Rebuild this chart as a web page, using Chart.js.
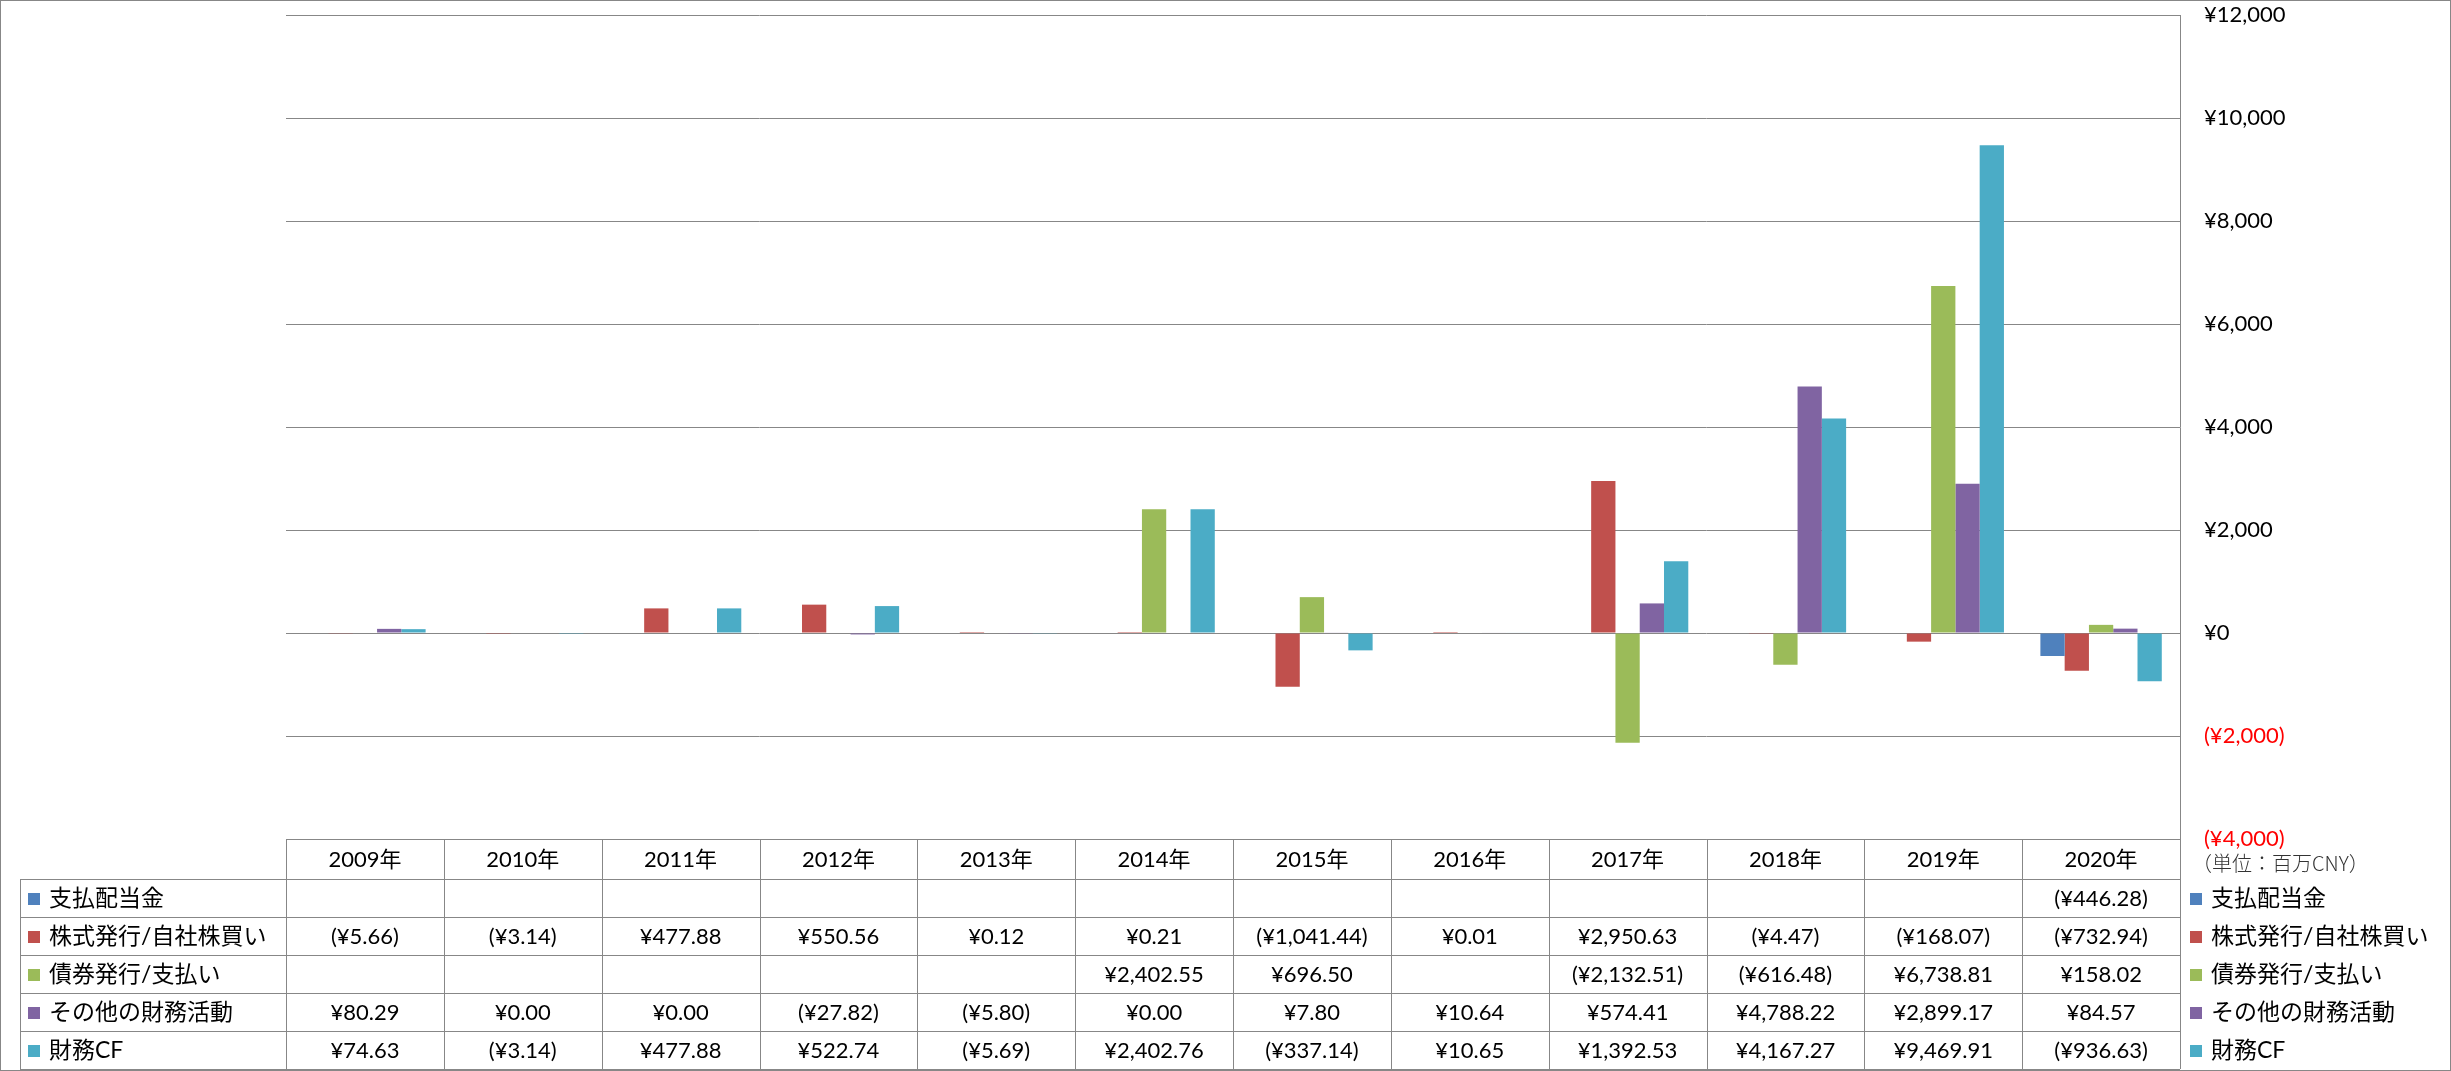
<!DOCTYPE html>
<html lang="ja">
<head>
<meta charset="UTF-8">
<title>財務CF 推移</title>
<script src="https://cdn.jsdelivr.net/npm/chart.js"></script>
<style>
    body { margin: 0; background: #fff; }
    canvas { display: block; }
</style>
</head>
<body>
<canvas id="cfChart" width="2451" height="1071"></canvas>
<script>
    // 年度
    const years = ['2009年', '2010年', '2011年', '2012年', '2013年', '2014年', '2015年', '2016年', '2017年', '2018年', '2019年', '2020年'];

    // 系列 (百万CNY)
    const dividends   = [null, null, null, null, null, null, null, null, null, null, null, -446.28];
    const equity      = [-5.66, -3.14, 477.88, 550.56, 0.12, 0.21, -1041.44, 0.01, 2950.63, -4.47, -168.07, -732.94];
    const bonds       = [null, null, null, null, null, 2402.55, 696.50, null, -2132.51, -616.48, 6738.81, 158.02];
    const otherFin    = [80.29, 0.00, 0.00, -27.82, -5.80, 0.00, 7.80, 10.64, 574.41, 4788.22, 2899.17, 84.57];
    const financingCF = [74.63, -3.14, 477.88, 522.74, -5.69, 2402.76, -337.14, 10.65, 1392.53, 4167.27, 9469.91, -936.63];

    const seriesNames  = ['支払配当金', '株式発行/自社株買い', '債券発行/支払い', 'その他の財務活動', '財務CF'];
    const seriesColors = ['#4F81BD', '#C0504D', '#9BBB59', '#8064A2', '#4BACC6'];
    const seriesData   = [dividends, equity, bonds, otherFin, financingCF];

    const yMin = -4000, yMax = 12000, yStep = 2000;
    const unitLabel = '（単位：百万CNY）';

    const FONT = 'Lato, "Noto Sans CJK JP", sans-serif';
    const GRID = '#878787';

    function yen(v, digits) {
        const s = Math.abs(v).toLocaleString('en-US', { minimumFractionDigits: digits, maximumFractionDigits: digits });
        return v < 0 ? '(¥' + s + ')' : '¥' + s;
    }

    // data table + right legend + outer frame
    const tablePlugin = {
        id: 'dataTable',
        afterDraw(chart) {
            const ctx = chart.ctx;
            const area = chart.chartArea;
            const xs = chart.scales.x;
            const colW = (area.right - area.left) / years.length;
            const top = area.bottom;
            const headH = 40, rowH = 38;
            const headBottom = top + headH;
            const bottom = headBottom + rowH * seriesNames.length;
            const labelLeft = 20;

            ctx.save();
            ctx.strokeStyle = GRID;
            ctx.lineWidth = 1;
            ctx.beginPath();
            // horizontal lines
            ctx.moveTo(area.left, top + 0.5); ctx.lineTo(area.right, top + 0.5);
            for (let r = 0; r <= seriesNames.length; r++) {
                const y = Math.round(headBottom + r * rowH) + 0.5;
                ctx.moveTo(labelLeft, y); ctx.lineTo(area.right, y);
            }
            // vertical lines
            for (let c = 0; c <= years.length; c++) {
                const x = Math.round(area.left + c * colW) + 0.5;
                ctx.moveTo(x, top); ctx.lineTo(x, bottom);
            }
            ctx.moveTo(labelLeft + 0.5, headBottom); ctx.lineTo(labelLeft + 0.5, bottom);
            ctx.stroke();

            // header
            ctx.fillStyle = '#000';
            ctx.textAlign = 'center';
            ctx.textBaseline = 'middle';
            ctx.font = '22px ' + FONT;
            years.forEach((yr, i) => {
                ctx.fillText(yr, xs.getPixelForValue(i), top + headH / 2 + 1);
            });

            // rows
            chart.data.datasets.forEach((ds, r) => {
                const cy = headBottom + r * rowH + rowH / 2 + 1;
                // label column
                ctx.fillStyle = ds.backgroundColor;
                ctx.fillRect(labelLeft + 8, cy - 6, 12, 12);
                ctx.fillStyle = '#000';
                ctx.textAlign = 'left';
                ctx.font = '23px ' + FONT;
                ctx.fillText(ds.label, labelLeft + 29, cy);
                // values
                ctx.textAlign = 'center';
                ctx.font = '22px ' + FONT;
                ds.data.forEach((v, i) => {
                    if (v === null) return;
                    ctx.fillText(yen(v, 2), xs.getPixelForValue(i), cy);
                });
                // right legend
                ctx.fillStyle = ds.backgroundColor;
                ctx.fillRect(area.right + 10, cy - 6, 12, 12);
                ctx.fillStyle = '#000';
                ctx.textAlign = 'left';
                ctx.font = '23px ' + FONT;
                ctx.fillText(ds.label, area.right + 31, cy);
            });

            // unit label
            ctx.fillStyle = '#333';
            ctx.font = '300 20px "Noto Sans CJK JP", sans-serif';
            ctx.textAlign = 'left';
            ctx.fillText(unitLabel, area.right + 12, top + 24);

            // outer frame
            ctx.strokeStyle = GRID;
            ctx.strokeRect(0.5, 0.5, chart.width - 1, chart.height - 1);
            ctx.restore();
        }
    };

    new Chart(document.getElementById('cfChart').getContext('2d'), {
        type: 'bar',
        data: {
            labels: years,
            datasets: seriesNames.map((name, i) => ({
                label: name,
                data: seriesData[i],
                backgroundColor: seriesColors[i],
                borderWidth: 0,
                barPercentage: 1,
                categoryPercentage: 5 / 6.5
            }))
        },
        options: {
            responsive: false,
            animation: false,
            devicePixelRatio: 1,
            layout: { padding: { left: 286, top: 15, right: 0, bottom: 232 } },
            plugins: { legend: { display: false }, tooltip: { enabled: false } },
            scales: {
                x: { display: false },
                y: {
                    position: 'right',
                    min: yMin,
                    max: yMax,
                    afterFit(scale) {
                        scale.width = 271;
                        scale.paddingTop = 0;
                        scale.paddingBottom = 0;
                    },
                    grid: { color: GRID, drawTicks: false },
                    border: { color: GRID },
                    ticks: {
                        stepSize: yStep,
                        padding: 24,
                        font: { family: FONT, size: 22 },
                        color: (c) => c.tick && c.tick.value < 0 ? '#FF0000' : '#000',
                        callback: (v) => yen(v, 0)
                    }
                }
            }
        },
        plugins: [tablePlugin]
    });
</script>
</body>
</html>
